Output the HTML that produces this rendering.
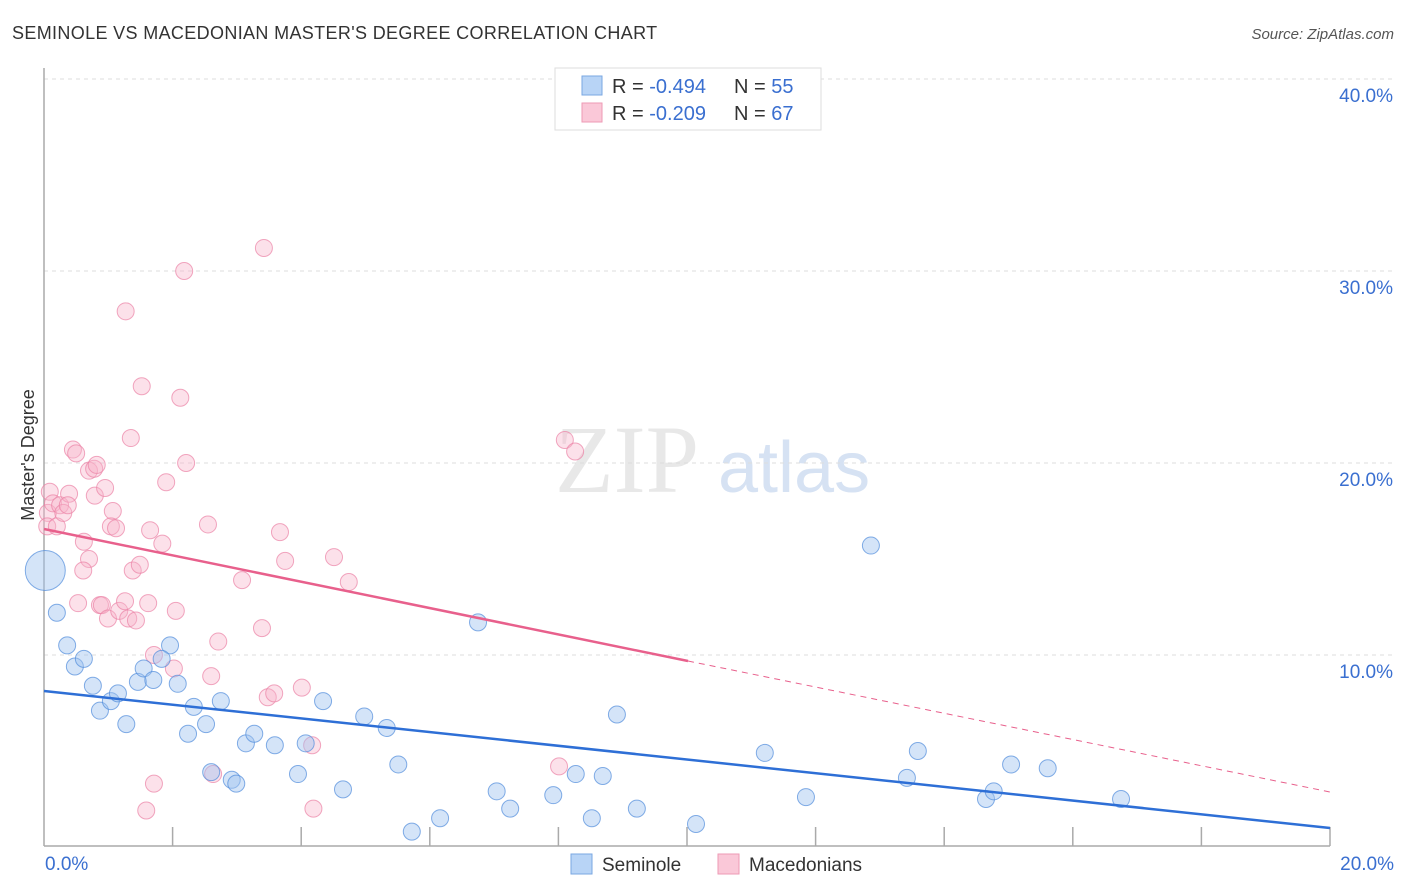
<!DOCTYPE html>
<html><head><meta charset="utf-8"><style>
body{margin:0;background:#fff;font-family:"Liberation Sans",sans-serif;}
svg{display:block}
</style></head><body>
<svg id="chart" width="1406" height="892">
<text x="12" y="39" font-size="18" fill="#333" letter-spacing="0.35">SEMINOLE VS MACEDONIAN MASTER'S DEGREE CORRELATION CHART</text>
<text x="1394" y="39" font-size="15" fill="#555" font-style="italic" text-anchor="end">Source: ZipAtlas.com</text>
<text x="555" y="492" font-size="96" fill="#e8e8e8" font-family="Liberation Serif,serif">ZIP</text>
<text x="718" y="492" font-size="72" fill="#d6e2f3">atlas</text>
<g id="grid"></g>
<g id="axes"></g>
<g id="pts"></g>
<g id="lines"></g>
<text transform="translate(34,455) rotate(-90)" font-size="18" fill="#333" text-anchor="middle">Master's Degree</text>
<g>
<rect x="555" y="68" width="266" height="62" fill="#fff" stroke="#ddd"/>
<rect x="582" y="76" width="20" height="19" fill="#b8d4f6" stroke="#7aa7e2"/>
<rect x="582" y="103" width="20" height="19" fill="#fac8d8" stroke="#ee9ab5"/>
<text x="612" y="93" font-size="20" fill="#333">R = <tspan fill="#3a6fd0">-0.494</tspan><tspan x="734">N = </tspan><tspan fill="#3a6fd0">55</tspan></text>
<text x="612" y="120" font-size="20" fill="#333">R = <tspan fill="#3a6fd0">-0.209</tspan><tspan x="734">N = </tspan><tspan fill="#3a6fd0">67</tspan></text>
</g>
<g>
<rect x="571" y="854" width="21" height="20" fill="#b8d4f6" stroke="#7aa7e2"/>
<text x="602" y="871" font-size="19" fill="#333">Seminole</text>
<rect x="718" y="854" width="21" height="20" fill="#fac8d8" stroke="#ee9ab5"/>
<text x="749" y="871" font-size="19" fill="#333">Macedonians</text>
</g>
</svg>
<script>
const yTicks=[10,20,30,40];
const xTickLabels=["0.0%","20.0%"];
const blueX=[0.02,0.2,0.36,0.48,0.62,0.76,0.87,1.04,1.15,1.28,1.46,1.55,1.7,1.96,1.83,2.08,2.24,2.33,2.52,2.6,2.75,2.92,2.99,3.14,3.27,3.59,3.95,4.07,4.34,4.65,4.98,5.33,5.51,5.72,6.16,6.75,7.04,7.25,7.92,8.27,8.52,8.69,8.91,9.22,10.14,11.21,11.85,12.86,13.42,13.59,14.65,14.77,15.04,15.61,16.75];
const blueY=[14.4,12.2,10.5,9.4,9.8,8.4,7.1,7.6,8.0,6.4,8.6,9.3,8.7,10.5,9.8,8.5,5.9,7.3,6.4,3.9,7.6,3.5,3.3,5.4,5.9,5.3,3.8,5.4,7.6,3.0,6.8,6.2,4.3,0.8,1.5,11.7,2.9,2.0,2.7,3.8,1.5,3.7,6.9,2.0,1.2,4.9,2.6,15.7,3.6,5.0,2.5,2.9,4.3,4.1,2.5];
const pinkX=[0.09,0.06,0.05,0.14,0.25,0.2,0.3,0.39,0.37,0.45,0.5,0.7,0.78,0.82,0.79,0.95,0.62,0.7,0.61,1.07,1.04,1.12,0.53,0.87,0.9,0.995,1.17,1.26,1.31,1.43,1.38,1.49,1.65,1.62,1.84,2.05,1.71,2.02,1.35,1.52,1.27,1.9,2.12,2.21,2.18,2.55,2.71,2.6,3.08,3.39,3.48,3.58,3.67,3.75,4.01,4.17,4.19,4.51,4.74,3.42,8.10,8.26,8.01,2.63,1.71,1.59];
const pinkY=[18.5,17.4,16.7,17.9,17.8,16.7,17.4,18.4,17.8,20.7,20.5,19.6,19.7,19.9,18.3,18.7,15.9,15.0,14.4,17.5,16.7,16.6,12.7,12.6,12.6,11.9,12.3,12.8,11.9,11.8,14.4,14.7,16.5,12.7,15.8,12.3,10.0,9.3,21.3,24.0,27.9,19.0,23.4,20.0,30.0,16.8,10.7,8.9,13.9,11.4,7.8,8.0,16.4,14.9,8.3,5.3,2.0,15.1,13.8,31.2,21.2,20.6,4.2,3.8,3.3,1.9];
const NS="http://www.w3.org/2000/svg";
const X0=44,X1=1330,Y0=847,Y40=79;
const xs=v=>X0+(X1-X0)*v/20;
const ys=v=>Y0-(Y0-Y40)*v/40;
function mk(tag,attrs,parent){const e=document.createElementNS(NS,tag);for(const k in attrs)e.setAttribute(k,attrs[k]);document.getElementById(parent).appendChild(e);return e;}
yTicks.forEach(t=>{
  const l=mk('line',{x1:X0,x2:1394,y1:ys(t),y2:ys(t),stroke:'#ddd','stroke-dasharray':'4,4'},'grid');
  
  
  const tx=mk('text',{x:1393,y:ys(t)+23,'font-size':19,fill:'#3a6fd0','text-anchor':'end'},'grid');
  tx.textContent=t.toFixed(1)+'%';
  
  
});
let ax=mk('line',{x1:X0,x2:X0,y1:68,y2:846,stroke:'#aaa','stroke-width':1.5},'axes');


ax=mk('line',{x1:X0,x2:X1,y1:846,y2:846,stroke:'#aaa','stroke-width':1.5},'axes');


for(let i=1;i<=10;i++){const t=mk('line',{x1:xs(i*2),x2:xs(i*2),y1:827,y2:846,stroke:'#aaa','stroke-width':1.5},'axes');

}
[[0,'start',45],[20,'end',1394]].forEach((a,i)=>{const t=mk('text',{x:a[2],y:870,'font-size':19,fill:'#3a6fd0','text-anchor':a[1]},'axes');t.textContent=xTickLabels[i];

});
pinkX.forEach((x,i)=>{const c=mk('circle',{cx:xs(x),cy:ys(pinkY[i]),r:8.5,fill:'rgba(248,180,202,0.4)',stroke:'rgba(235,130,165,0.7)'},'pts');

});
blueX.forEach((x,i)=>{const c=mk('circle',{cx:xs(x),cy:ys(blueY[i]),r:i==0?20:8.5,fill:'rgba(160,196,240,0.45)',stroke:'rgba(80,140,220,0.7)'},'pts');

});
let ln=mk('line',{x1:xs(0),y1:691,x2:xs(20),y2:828,stroke:'#2e6fd6','stroke-width':2.5},'lines');


ln=mk('line',{x1:xs(0),y1:529,x2:688,y2:661,stroke:'#e8608c','stroke-width':2.5},'lines');


ln=mk('line',{x1:688,y1:661,x2:xs(20),y2:792,stroke:'#e8608c','stroke-width':1,'stroke-dasharray':'6,5'},'lines');


</script>
</body></html>
